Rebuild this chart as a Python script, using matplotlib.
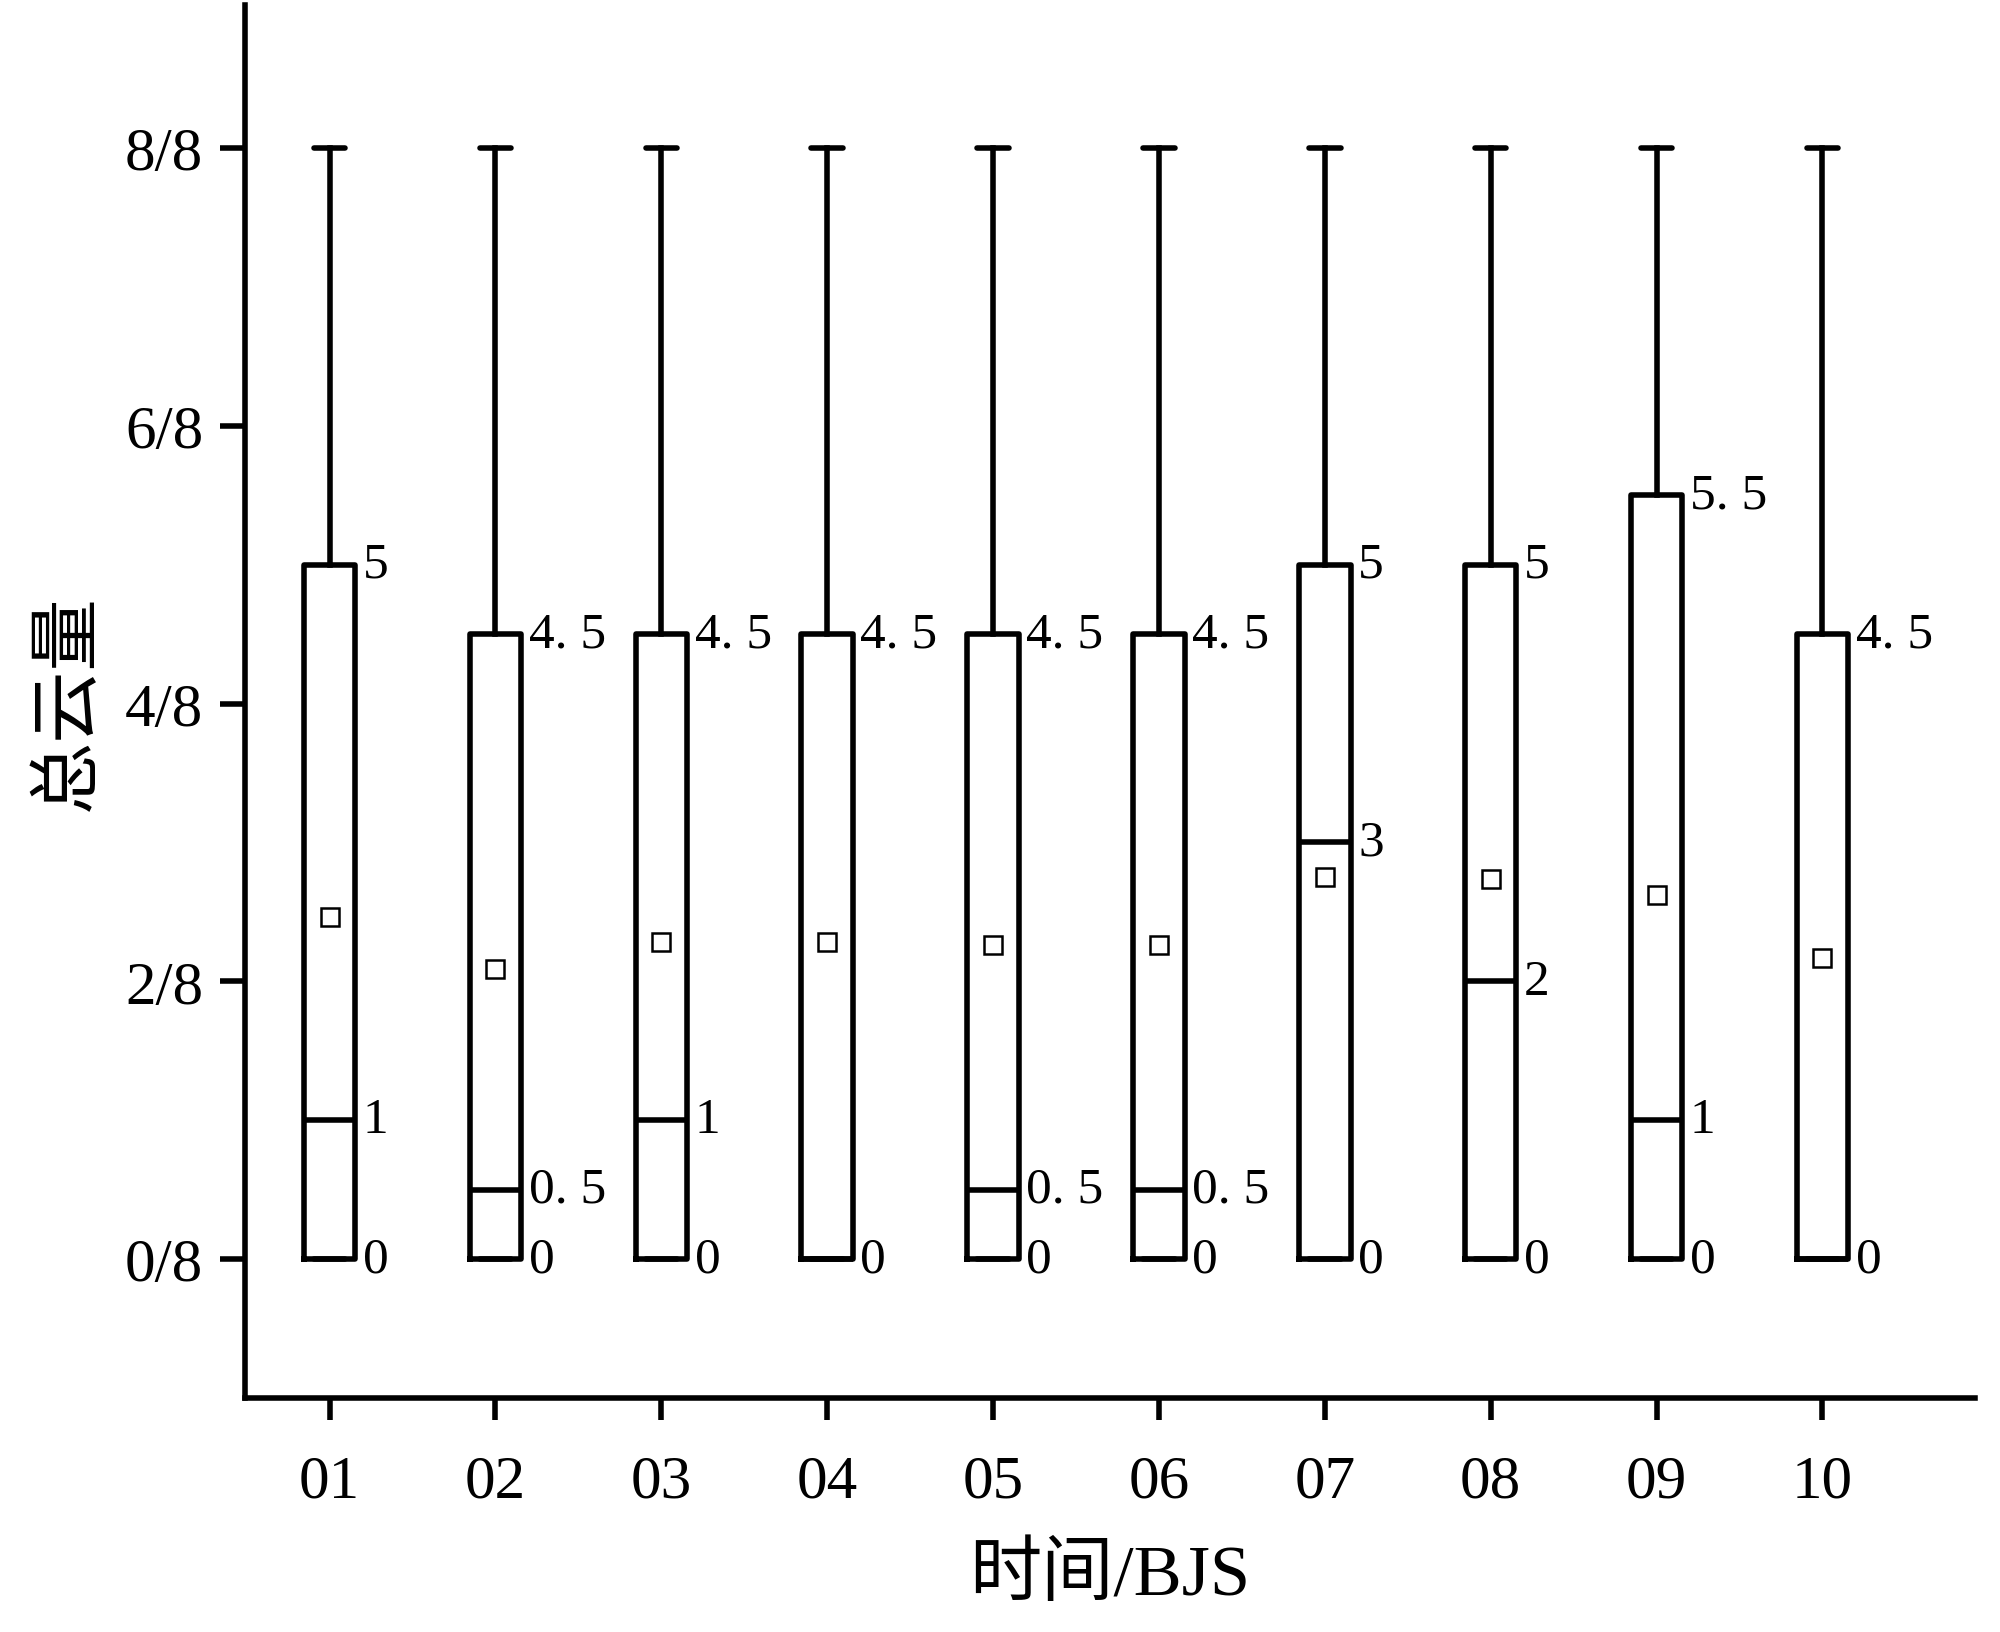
import matplotlib
matplotlib.use("Agg")
import matplotlib.pyplot as plt

# hours (BJS) and box statistics of total cloud cover (in eighths)
hours = ["01", "02", "03", "04", "05", "06", "07", "08", "09", "10"]
q1 = [0, 0, 0, 0, 0, 0, 0, 0, 0, 0]
medians = [1, 0.5, 1, 0, 0.5, 0.5, 3, 2, 1, 0]
q3 = [5, 4.5, 4.5, 4.5, 4.5, 4.5, 5, 5, 5.5, 4.5]
whisker_lo = [0, 0, 0, 0, 0, 0, 0, 0, 0, 0]
whisker_hi = [8, 8, 8, 8, 8, 8, 8, 8, 8, 8]
means = [2.46, 2.09, 2.28, 2.28, 2.26, 2.26, 2.75, 2.74, 2.62, 2.17]

ytick_vals = [0, 2, 4, 6, 8]
ytick_labels = ["0/8", "2/8", "4/8", "6/8", "8/8"]

SERIF = ["Liberation Serif", "Noto Sans CJK SC"]
plt.rcParams["font.family"] = SERIF

LW = 2.0


def fmt(v):
    # the original font draws a wide full stop, e.g. "4. 5"
    s = f"{v:g}"
    return s.replace(".", ". ")


def main() -> None:
    fig = plt.figure(figsize=(10, 8.165), dpi=200)
    ax = fig.add_axes([0.1225, 0.1433, 0.865, 0.853])

    stats = []
    for i in range(len(hours)):
        stats.append({
            "label": hours[i],
            "q1": q1[i], "med": medians[i], "q3": q3[i],
            "whislo": whisker_lo[i], "whishi": whisker_hi[i],
            "mean": means[i], "fliers": [],
        })
    positions = list(range(1, len(hours) + 1))
    ax.bxp(
        stats, positions=positions, widths=0.31, capwidths=0.19,
        showmeans=True, showfliers=False,
        boxprops=dict(color="black", linewidth=LW),
        whiskerprops=dict(color="black", linewidth=LW),
        capprops=dict(color="black", linewidth=LW, solid_capstyle="round"),
        medianprops=dict(color="black", linewidth=LW),
        meanprops=dict(marker="s", markerfacecolor="white", markeredgecolor="black",
                       markersize=6.5, markeredgewidth=0.9),
    )

    # value labels to the right of each box
    for x, a, m, b in zip(positions, q1, medians, q3):
        xr = x + 0.155 + 0.045
        for v in sorted({a, m, b}):
            ax.text(xr, v, fmt(v), ha="left", va="center", fontsize=18.5,
                    family=SERIF)

    ax.set_xlim(0.49, 10.92)
    ax.set_ylim(-1, 9.03)
    ax.set_xticks(positions)
    ax.set_xticklabels(hours)
    ax.set_yticks(ytick_vals)
    ax.set_yticklabels(ytick_labels)

    for side in ("top", "right"):
        ax.spines[side].set_visible(False)
    for side in ("left", "bottom"):
        ax.spines[side].set_linewidth(LW)

    ax.tick_params(axis="y", length=9, width=LW, labelsize=22, pad=6)
    ax.tick_params(axis="x", length=8, width=LW, labelsize=22, pad=12)

    ax.set_xlabel("时间/BJS", fontsize=26, labelpad=12)
    ax.set_ylabel("总云量", fontsize=26, labelpad=8)

    fig.savefig("out.png", dpi=200)


if __name__ == "__main__":
    main()
